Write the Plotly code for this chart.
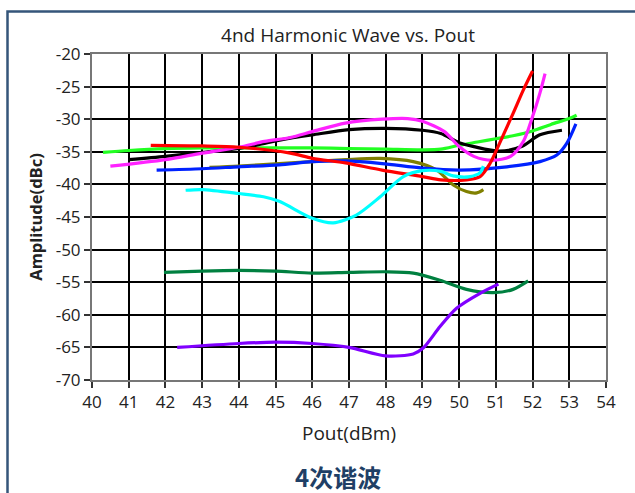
import plotly.graph_objects as go

# ---- data ----
green_x = [40.3, 41, 42, 43, 44, 45, 46, 47, 48, 49, 49.5, 50, 50.5, 51, 51.5, 52, 52.5, 53, 53.2]
green_y = [-35.1, -34.8, -34.5, -34.4, -34.4, -34.4, -34.4, -34.5, -34.6, -34.7, -34.6, -34.0, -33.5, -33.0, -32.5, -31.8, -30.8, -29.9, -29.4]

black_x = [41, 42, 43, 44, 44.7, 45.4, 46, 47, 48, 49, 49.5, 50, 50.4, 51.1, 51.7, 52.2, 52.8]
black_y = [-36.2, -35.7, -35.1, -34.5, -33.7, -32.9, -32.4, -31.6, -31.4, -31.7, -32.2, -33.6, -34.2, -34.9, -34.2, -32.4, -31.7]

magenta_x = [40.5, 42, 43, 44, 44.7, 45.4, 46, 46.9, 47.9, 48.6, 49, 49.6, 50, 50.4, 50.9, 51.4, 51.75, 52.0, 52.2, 52.34]
magenta_y = [-37.2, -36.2, -35.2, -34.3, -33.4, -32.8, -31.9, -30.6, -30.0, -29.9, -30.3, -31.9, -34.2, -35.7, -36.3, -35.7, -33.4, -29.6, -26.0, -23.0]

red_x = [41.6, 43, 44, 45.4, 46, 46.9, 47.9, 49, 49.5, 50.2, 50.57, 50.84, 51.1, 51.47, 51.75, 52.0]
red_y = [-34.0, -34.1, -34.3, -35.2, -36.0, -36.7, -37.8, -38.8, -39.3, -39.3, -38.8, -36.8, -33.7, -29.1, -25.5, -22.6]

blue_x = [41.76, 43, 44, 45.1, 46, 46.9, 47.9, 49, 50, 51.3, 52.2, 52.66, 52.93, 53.18]
blue_y = [-37.8, -37.6, -37.3, -37.0, -36.5, -36.4, -36.8, -37.5, -37.8, -37.3, -36.5, -35.5, -33.7, -30.7]

olive_x = [43.2, 44, 45.1, 46, 46.9, 47.85, 48.75, 49.39, 49.84, 50.2, 50.48, 50.66]
olive_y = [-37.4, -37.2, -36.8, -36.5, -36.2, -36.0, -36.5, -37.8, -40.1, -41.1, -41.3, -40.8]

cyan_x = [42.55, 43, 44, 44.67, 45.1, 46, 46.57, 47.2, 47.85, 48.48, 49, 49.5, 49.84, 50.3, 50.57, 50.66]
cyan_y = [-40.9, -40.8, -41.4, -41.9, -42.6, -45.2, -45.9, -44.7, -41.9, -38.8, -37.9, -38.0, -38.7, -38.8, -38.2, -37.2]

dgreen_x = [41.96, 43, 44, 45, 46, 47, 48, 48.75, 49.48, 50.2, 50.93, 51.47, 51.88]
dgreen_y = [-53.5, -53.3, -53.2, -53.3, -53.6, -53.5, -53.4, -53.6, -54.7, -56.1, -56.6, -56.1, -54.8]

purple_x = [42.32, 44, 45, 46, 47, 48, 48.75, 49.02, 49.48, 49.93, 50.57, 51.07]
purple_y = [-65.0, -64.4, -64.2, -64.4, -65.0, -66.3, -66.0, -65.1, -61.8, -59.0, -56.7, -55.3]

x_ticks = list(range(40, 55))
x_ticktext = [str(v) for v in x_ticks]
y_ticks = list(range(-70, -15, 5))
y_ticktext = [str(v) for v in y_ticks]

series = [
    (green_x, green_y, "#22ff22"),
    (black_x, black_y, "#000000"),
    (magenta_x, magenta_y, "#ff22ff"),
    (olive_x, olive_y, "#808000"),
    (blue_x, blue_y, "#0022ff"),
    (red_x, red_y, "#ff0000"),
    (cyan_x, cyan_y, "#00ffff"),
    (dgreen_x, dgreen_y, "#008040"),
    (purple_x, purple_y, "#8000ff"),
]

fig = go.Figure()
for xs, ys, col in series:
    fig.add_trace(go.Scatter(x=xs, y=ys, mode="lines",
                             line=dict(color=col, width=3.2, shape="spline", smoothing=0.8),
                             showlegend=False, hoverinfo="skip"))

FONT = "Open Sans"
L, R, T, B = 92, 606, 54, 380
W, H = R - L, B - T

def px2x(px):
    return (px - L) / W

def py2y(py):
    return (B - py) / H

fig.update_layout(
    width=635, height=493,
    margin=dict(l=L, r=635 - R, t=T, b=493 - B),
    paper_bgcolor="white", plot_bgcolor="white",
    font=dict(family=FONT, color="#222222"),
    title=dict(text="4nd Harmonic Wave vs. Pout", x=348 / 635, xanchor="center",
               y=1 - 35 / 493, yanchor="middle", font=dict(size=19, family=FONT, color="#222222")),
    xaxis=dict(range=[40, 54], tickvals=x_ticks, ticktext=x_ticktext,
               showgrid=True, gridcolor="#000000", gridwidth=1.5,
               ticks="outside", ticklen=6, tickwidth=1.5, tickcolor="#333333",
               showline=True, linecolor="#777777", linewidth=2, mirror=True,
               tickfont=dict(size=17, family=FONT, color="#222222"),
               title=dict(text="Pout(dBm)", font=dict(size=19, family=FONT, color="#222222"), standoff=14),
               zeroline=False),
    yaxis=dict(range=[-70, -20], tickvals=y_ticks, ticktext=y_ticktext,
               showgrid=True, gridcolor="#000000", gridwidth=1.5,
               ticks="outside", ticklen=6, tickwidth=1.5, tickcolor="#333333",
               showline=True, linecolor="#777777", linewidth=2, mirror=True,
               tickfont=dict(size=17, family=FONT, color="#222222"),
               title=dict(text="<b>Amplitude(dBc)</b>", font=dict(size=16.5, family=FONT, color="#222222"), standoff=9),
               zeroline=False),
)

# outer frame
fig.add_shape(type="rect", xref="paper", yref="paper",
              x0=px2x(7.5), x1=px2x(660), y0=py2y(520), y1=py2y(11.5),
              line=dict(color="#35557a", width=2.5), fillcolor="rgba(0,0,0,0)", layer="below")

fig.add_annotation(text="<b>4次谐波</b>", xref="paper", yref="paper",
                   x=px2x(338), y=py2y(476), xanchor="center", yanchor="middle",
                   showarrow=False,
                   font=dict(size=24, family="Noto Sans CJK SC", color="#1f3f66"))

fig.write_html("out.html", config={"displayModeBar": False},
               post_script="document.body.style.margin='0px';document.body.style.overflow='hidden';")
